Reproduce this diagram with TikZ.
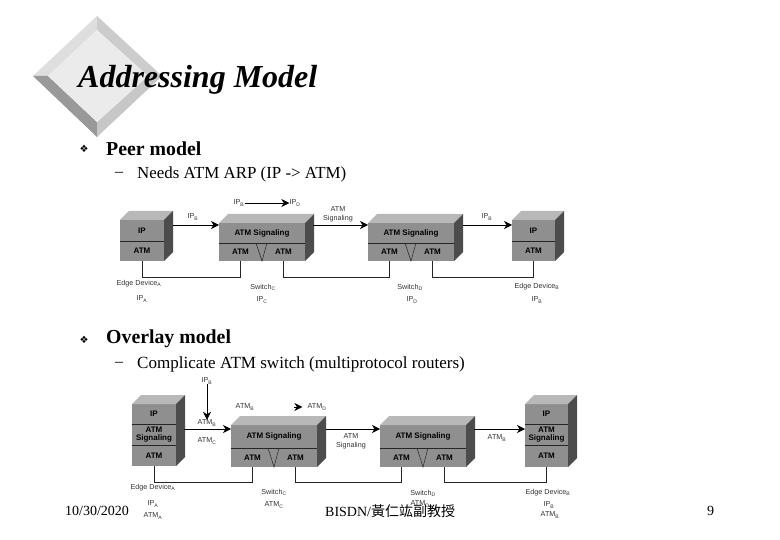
\documentclass[tikz,border=0pt]{standalone}
\usepackage{fontspec}
\setmainfont{Liberation Serif}
\newfontfamily\diagfont{Liberation Sans}
\newfontfamily\cjkfont{Noto Sans CJK TC}
\newfontfamily\symfont{DejaVu Sans}
\usetikzlibrary{calc,arrows.meta}

\definecolor{frontgray}{gray}{0.56}
\definecolor{topgray}{gray}{0.72}
\definecolor{sidegray}{gray}{0.30}

\tikzset{
  atmcell/.style={fill=frontgray,inner sep=0pt,outer sep=0pt,anchor=north west,align=center,
    font=\diagfont\bfseries\fontsize{8}{9.5}\selectfont},
  lab/.style={inner sep=0pt,font=\diagfont\fontsize{7.2}{8.6}\selectfont,align=center,text=black!80},
  flow/.style={line width=.7pt,-{Stealth[length=8pt,width=8pt,inset=2.5pt]}},
  wire/.style={line width=.7pt,black!85},
  slide/.style={inner sep=0pt,anchor=west},
  divider/.style={line width=.7pt,black!85},
}

% top and side faces, from the first cell to the last one
\newcommand{\faces}[2]{
  \fill[topgray] (#1.north west) -- ++(9,-9) -- ($(#1.north east)+(9,-9)$) -- (#1.north east) -- cycle;
  \fill[sidegray] (#1.north east) -- ++(9,-9) -- ($(#2.south east)+(9,-9)$) -- (#2.south east) -- cycle;
}
\newcommand{\atmswitch}[5]{
  \node[atmcell,minimum width=86,minimum height=#4] (#1-sig) at (#2,#3) {ATM Signaling};
  \node[atmcell,minimum width=43,minimum height=#5] (#1-l) at (#1-sig.south west) {ATM};
  \node[atmcell,minimum width=43,minimum height=#5] (#1-r) at (#1-l.north east) {ATM};
  \faces{#1-sig}{#1-r}
  \draw[divider] (#1-sig.south west) -- (#1-sig.south east);
  \draw[divider,line width=.5pt] ($(#1-l.north east)+(-6,0)$) -- (#1-l.south east) -- ($(#1-r.north west)+(5,0)$);
}

\begin{document}
\begin{tikzpicture}[x=1pt,y=-1pt]
  \useasboundingbox[fill=white] (0,0) rectangle (780,540);

  % title diamond
  \coordinate (dt) at (97,16);
  \coordinate (dl) at (33,76);
  \coordinate (db) at (97,137);
  \coordinate (dr) at (162,76);
  \coordinate (it) at (97,30);
  \coordinate (il) at (48,76);
  \coordinate (ib) at (97,122);
  \coordinate (ir) at (148,76);
  \fill[black!13] (dt) -- (dl) -- (il) -- (it) -- cycle;
  \fill[black!20] (dt) -- (dr) -- (ir) -- (it) -- cycle;
  \fill[black!40] (dl) -- (db) -- (ib) -- (il) -- cycle;
  \fill[black!22] (db) -- (dr) -- (ir) -- (ib) -- cycle;
  \fill[black!8] (it) -- (il) -- (ib) -- (ir) -- cycle;

  \node[slide,font=\fontsize{32}{36}\selectfont\bfseries\itshape] (title) at (78,80) {Addressing Model};
  \node[inner sep=0pt,font=\symfont\fontsize{10}{11}\selectfont] (bulA) at (84,149) {❖};
  \node[slide,font=\fontsize{19.8}{22}\selectfont\bfseries] (peer) at (106,149) {Peer model};
  \node[slide,font=\fontsize{16}{18}\selectfont] (dashA) at (115,174) {–};
  \node[slide,font=\fontsize{16.9}{18}\selectfont] (needs) at (137,174) {Needs ATM ARP (IP -> ATM)};
  \node[inner sep=0pt,font=\symfont\fontsize{10}{11}\selectfont] (bulB) at (84,340) {❖};
  \node[slide,font=\fontsize{19.8}{22}\selectfont\bfseries] (overlay) at (106,339) {Overlay model};
  \node[slide,font=\fontsize{16}{18}\selectfont] (dashB) at (115,364) {–};
  \node[slide,font=\fontsize{17.05}{18}\selectfont] (compl) at (137,364) {Complicate ATM switch (multiprotocol routers)};

  % peer model
  \node[atmcell,minimum width=44,minimum height=21] (edgeA-ip) at (120,220) {IP};
  \node[atmcell,minimum width=44,minimum height=20] (edgeA-atm) at (edgeA-ip.south west) {ATM};
  \faces{edgeA-ip}{edgeA-atm}
  \draw[divider] (edgeA-ip.south west) -- (edgeA-ip.south east);
  \atmswitch{swC}{219}{223}{20}{18}
  \atmswitch{swD}{368}{223}{20}{18}
  \node[atmcell,minimum width=43,minimum height=21] (edgeB-ip) at (512,220) {IP};
  \node[atmcell,minimum width=43,minimum height=20] (edgeB-atm) at (edgeB-ip.south west) {ATM};
  \faces{edgeB-ip}{edgeB-atm}
  \draw[divider] (edgeB-ip.south west) -- (edgeB-ip.south east);

  \draw[flow] ($(edgeA-ip.north east)+(9,5)$) -- ($(swC-sig.north west)+(0,2)$);
  \draw[flow] ($(swC-sig.north east)+(8,2)$) -- ($(swD-sig.north west)+(0,2)$);
  \draw[flow] ($(swD-sig.north east)+(9,2)$) -- ($(edgeB-ip.north west)+(0,5)$);
  \draw[wire] (edgeA-atm.south) -- ++(0,16) -| (swC-l.south);
  \draw[wire] (swC-r.south) -- ++(0,16) -| (swD-l.south);
  \draw[wire] (swD-r.south) -- ++(0,16) -| (edgeB-atm.south);

  \node[lab] (ipSrc) at (239,203) {IP\textsubscript{B}};
  \node[lab] (ipDst) at (295,203) {IP\textsubscript{D}};
  \draw[flow] (ipSrc) -- (ipDst);
  \node[lab] (ipNextA) at (193,217) {IP\textsubscript{B}};
  \node[lab] (sigA) at (338,214) {ATM\\Signaling};
  \node[lab] (ipNextB) at (487,217) {IP\textsubscript{B}};
  \node[lab] (edgeAname) at (139,284) {Edge Device\textsubscript{A}};
  \node[lab] (edgeAip) at (142,299) {IP\textsubscript{A}};
  \node[lab] (swCname) at (263,287) {Switch\textsubscript{C}};
  \node[lab] (swCip) at (262,300) {IP\textsubscript{C}};
  \node[lab] (swDname) at (410,287) {Switch\textsubscript{D}};
  \node[lab] (swDip) at (412,300) {IP\textsubscript{D}};
  \node[lab] (edgeBname) at (537,287) {Edge Device\textsubscript{B}};
  \node[lab] (edgeBip) at (537,300) {IP\textsubscript{B}};

  % overlay model
  \node[atmcell,minimum width=44,minimum height=20] (ovlA-ip) at (132,404) {IP};
  \node[atmcell,minimum width=44,minimum height=21] (ovlA-sig) at (ovlA-ip.south west) {ATM\\[-1pt]Signaling};
  \node[atmcell,minimum width=44,minimum height=21] (ovlA-atm) at (ovlA-sig.south west) {ATM};
  \faces{ovlA-ip}{ovlA-atm}
  \draw[divider] (ovlA-ip.south west) -- (ovlA-ip.south east);
  \draw[divider] (ovlA-sig.south west) -- (ovlA-sig.south east);
  \atmswitch{ovlC}{231}{425}{23}{19}
  \atmswitch{ovlD}{380}{425}{23}{19}
  \node[atmcell,minimum width=43,minimum height=20] (ovlB-ip) at (525,404) {IP};
  \node[atmcell,minimum width=43,minimum height=21] (ovlB-sig) at (ovlB-ip.south west) {ATM\\[-1pt]Signaling};
  \node[atmcell,minimum width=43,minimum height=22] (ovlB-atm) at (ovlB-sig.south west) {ATM};
  \faces{ovlB-ip}{ovlB-atm}
  \draw[divider] (ovlB-ip.south west) -- (ovlB-ip.south east);
  \draw[divider] (ovlB-sig.south west) -- (ovlB-sig.south east);

  \draw[flow] ($(ovlA-sig.north east)+(8,5)$) -- ($(ovlC-sig.north west)+(0,4)$);
  \draw[flow] ($(ovlC-sig.north east)+(9,4)$) -- ($(ovlD-sig.north west)+(0,4)$);
  \draw[flow] ($(ovlD-sig.north east)+(8,4)$) -- ($(ovlB-sig.north west)+(0,5)$);
  \draw[wire] (ovlA-atm.south) -- ++(0,16) -| (ovlC-l.south);
  \draw[wire] (ovlC-r.south) -- ++(0,15) -| (ovlD-l.south);
  \draw[wire] (ovlD-r.south) -- ++(0,15) -| (ovlB-atm.south);

  \node[lab] (ovlIp) at (207,381) {IP\textsubscript{B}};
  \node[lab] (ovlResA) at (207,423) {ATM\textsubscript{B}};
  \draw[flow] (ovlIp) -- (ovlResA);
  \node[lab] (ovlResB) at (207,441) {ATM\textsubscript{C}};
  \node[lab] (ovlSrc) at (245,407) {ATM\textsubscript{B}};
  \node[lab] (ovlDst) at (317,407) {ATM\textsubscript{D}};
  \draw[flow] ($(ovlDst.west)+(-13,0)$) -- ($(ovlDst.west)+(-5,0)$);
  \node[lab] (sigB) at (351,441) {ATM\\Signaling};
  \node[lab] (ovlNext) at (497,438) {ATM\textsubscript{B}};
  \node[lab] (ovlAname) at (153,488) {Edge Device\textsubscript{A}};
  \node[lab] (ovlAip) at (153,504) {IP\textsubscript{A}};
  \node[lab] (ovlAatm) at (153,516) {ATM\textsubscript{A}};
  \node[lab] (ovlCname) at (274,492) {Switch\textsubscript{C}};
  \node[lab] (ovlCatm) at (274,505) {ATM\textsubscript{C}};
  \node[lab] (ovlDname) at (423,493) {Switch\textsubscript{D}};
  \node[lab] (ovlDatm) at (420,504) {ATM\textsubscript{D}};
  \node[lab] (ovlBname) at (548,493) {Edge Device\textsubscript{B}};
  \node[lab] (ovlBip) at (549,505) {IP\textsubscript{B}};
  \node[lab] (ovlBatm) at (550,515) {ATM\textsubscript{B}};

  % footer
  \node[slide,font=\fontsize{14}{16}\selectfont] (date) at (65,511) {10/30/2020};
  \node[slide,font=\fontsize{14}{16}\selectfont] (course) at (325,511) {BISDN/{\cjkfont 黃仁竑副教授}};
  \node[slide,font=\fontsize{14}{16}\selectfont] (page) at (707,511) {9};
\end{tikzpicture}
\end{document}
